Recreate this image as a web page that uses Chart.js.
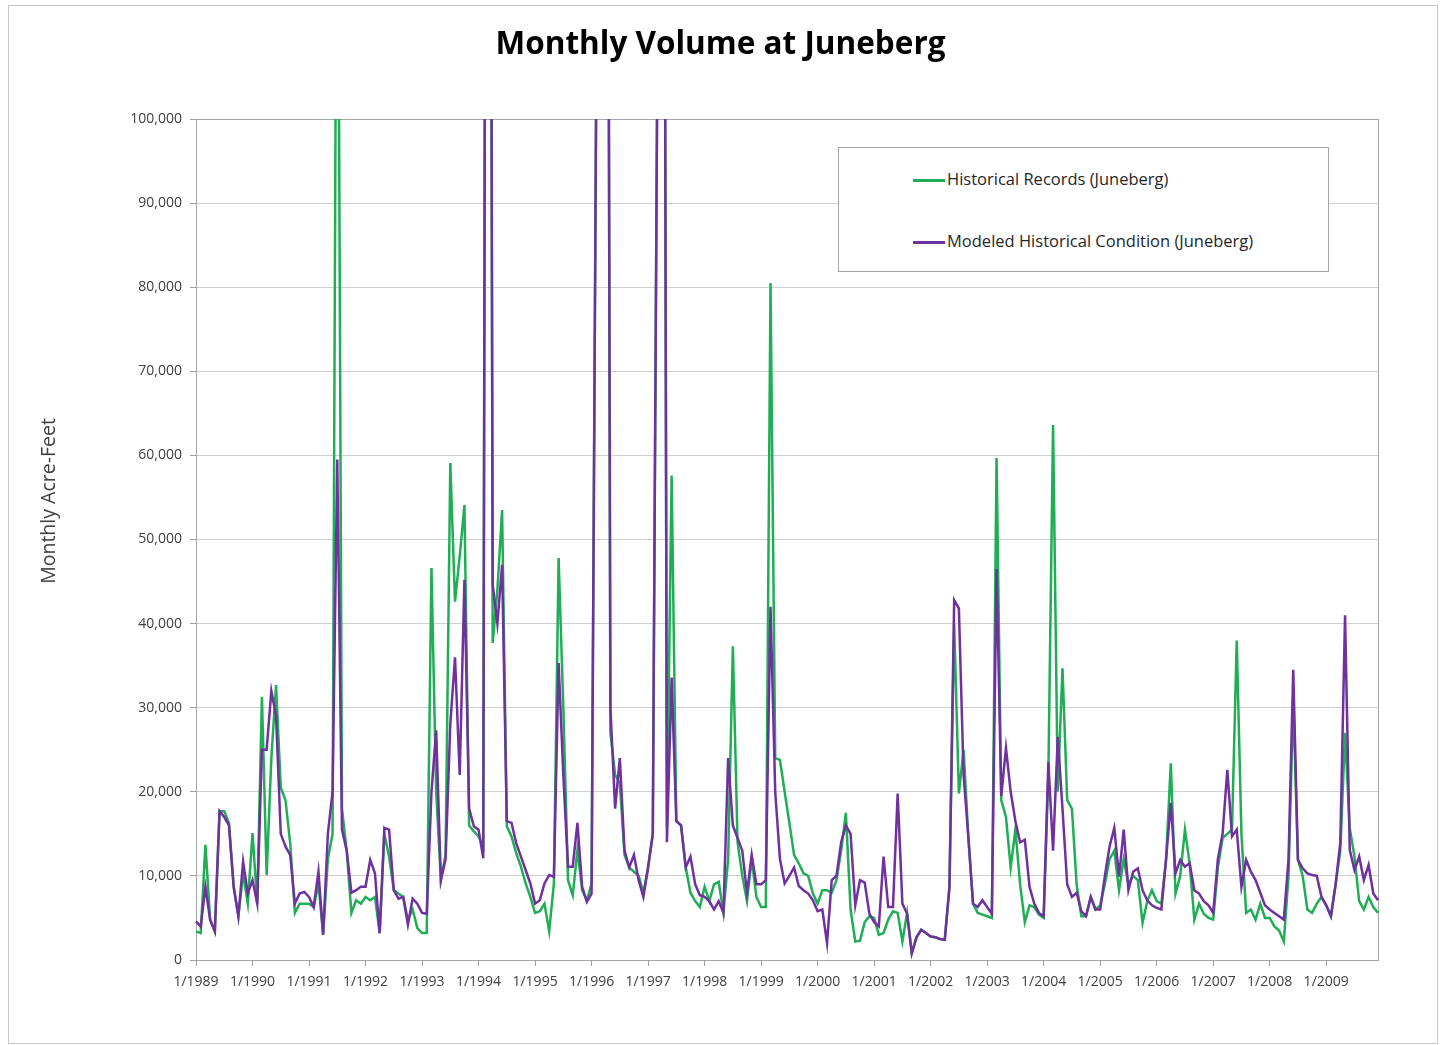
<!DOCTYPE html>
<html>
<head>
<meta charset="utf-8">
<title>Monthly Volume at Juneberg</title>
<script src="https://cdn.jsdelivr.net/npm/chart.js@4.4.1/dist/chart.umd.min.js"></script>
<style>
  html, body { margin: 0; padding: 0; background: #fff; }
  body { width: 1441px; height: 1045px; position: relative; overflow: hidden; font-family: 'Open Sans', sans-serif; }
  #frame { position: absolute; left: 8px; top: 5px; width: 1428px; height: 1037px; border: 1px solid #c8c8c8; }
  #wrap { position: absolute; left: 0; top: 0; width: 1441px; height: 1045px; }
  #title { position: absolute; left: 0; top: 21px; width: 1441px; line-height: 42px; text-align: center;
           font-size: 31.5px; font-weight: 700; color: #000; }
  #ytitle { position: absolute; left: 48px; top: 501px; width: 300px; margin-left: -150px; margin-top: -12px;
            line-height: 24px; text-align: center; font-size: 19.5px; color: #404040;
            transform: rotate(-90deg); white-space: nowrap; }
  #legend { position: absolute; left: 838px; top: 147px; width: 489px; height: 123px; background: #fff;
            border: 1px solid #a6a6a6; font-size: 16.5px; color: #262626; }
  #legend .row { position: absolute; left: 74px; height: 24px; line-height: 24px; white-space: nowrap; }
  #legend .swatch { display: inline-block; width: 32px; height: 3px; vertical-align: middle; margin-right: 2px; }
</style>
</head>
<body>
<div id="frame"></div>
<div id="wrap"><canvas id="chart" width="1441" height="1045"></canvas></div>
<div id="title">Monthly Volume at Juneberg</div>
<div id="ytitle">Monthly Acre-Feet</div>
<div id="legend">
  <div class="row" style="top:19px"><span class="swatch" style="background:#1fae55"></span>Historical Records (Juneberg)</div>
  <div class="row" style="top:81px"><span class="swatch" style="background:#7030a0"></span>Modeled Historical Condition (Juneberg)</div>
</div>
<script>
// monthly volumes, acre-feet, Jan 1989 - Dec 2009
const years = [1989, 1990, 1991, 1992, 1993, 1994, 1995, 1996, 1997, 1998, 1999,
               2000, 2001, 2002, 2003, 2004, 2005, 2006, 2007, 2008, 2009];

const historical = [
  3400, 3200, 13700, 4800, 3400, 17700, 17700, 16300, 8700, 5200, 10300, 6700,
  15100, 6700, 31300, 10100, 24000, 32700, 20500, 19000, 13900, 5600, 6700, 6700,
  6700, 6300, 9100, 3000, 12000, 15000, 150000, 18000, 13000, 5600, 7100, 6700,
  7500, 7100, 7500, 3200, 15000, 12300, 8300, 7900, 7500, 4800, 6000, 3800,
  3200, 3200, 46600, 20000, 9500, 12500, 59100, 42600, 48000, 54100, 16000, 15300,
  14700, 13500, 300000, 37700, 44000, 53500, 15900, 14700, 12700, 11100, 9100, 7500,
  5600, 5800, 6700, 3400, 9100, 47800, 30000, 9500, 7700, 13100, 8300, 7100,
  9100, 105000, 250000, 250000, 27000, 22000, 21000, 12500, 11000, 10500, 10000, 8000,
  11000, 15000, 110000, 250000, 16000, 57600, 16500, 16000, 11000, 8000, 7000, 6300,
  8700, 7000, 9000, 9300, 5600, 12000, 37300, 14000, 10000, 7000, 12000, 7500,
  6300, 6300, 80500, 24000, 23800, 20000, 16300, 12500, 11500, 10300, 10000, 7900,
  6700, 8300, 8300, 8000, 9500, 13000, 17500, 6000, 2200, 2300, 4500, 5200,
  5000, 3000, 3200, 4800, 5800, 5600, 2200, 5600, 800, 2700, 3600, 3200,
  2800, 2700, 2500, 2400, 8700, 40000, 19800, 25000, 14700, 6700, 5600, 5400,
  5200, 5000, 59700, 19000, 17000, 11000, 15500, 9000, 4500, 6500, 6300, 5400,
  5000, 22000, 63600, 20000, 34700, 19000, 18000, 9000, 5200, 5200, 7500, 6000,
  6500, 9000, 12000, 13000, 8300, 12000, 9000, 10000, 9500, 4400, 7000, 8300,
  7000, 6700, 12000, 23400, 7900, 10000, 15500, 11500, 4800, 6700, 5500, 5000,
  4800, 11000, 14500, 15000, 15500, 38000, 15000, 5600, 6000, 4800, 6700, 5000,
  5000, 4000, 3500, 2200, 10000, 31000, 11900, 10000, 6000, 5600, 6700, 7500,
  6500, 5200, 9000, 13000, 27000, 15700, 12300, 7000, 6000, 7500, 6300, 5600
];

const modeled = [
  4600, 4000, 8700, 4800, 3400, 17700, 17000, 16000, 8700, 5200, 11700, 7900,
  9500, 6700, 25000, 25000, 32000, 29000, 15000, 13500, 12500, 6700, 7900, 8100,
  7500, 6300, 10500, 3000, 15000, 20000, 59500, 15500, 13000, 8000, 8300, 8700,
  8700, 11900, 10300, 3200, 15700, 15500, 8300, 7300, 7500, 4200, 7300, 6700,
  5600, 5500, 20000, 27300, 9500, 12000, 28000, 36000, 22000, 45200, 18000, 15900,
  15500, 12100, 280000, 44600, 40000, 47000, 16500, 16300, 13900, 12300, 10700, 9100,
  6700, 7100, 9100, 10100, 9900, 35300, 22000, 11100, 11100, 16300, 8700, 6900,
  7900, 105000, 250000, 250000, 30000, 18000, 24000, 13000, 11000, 12500, 9500, 7500,
  11000, 15000, 110000, 250000, 14000, 33600, 16500, 16000, 11000, 12300, 9000, 7700,
  7500, 7000, 6000, 7000, 5600, 24000, 16000, 14500, 13000, 8000, 12500, 9000,
  9000, 9500, 42000, 20000, 12000, 9100, 10000, 11000, 8800, 8300, 7900, 7100,
  5800, 6000, 2000, 9500, 10000, 14000, 16000, 15000, 6500, 9500, 9200, 5500,
  4500, 4000, 12300, 6300, 6300, 19800, 6700, 5500, 800, 2700, 3600, 3200,
  2800, 2700, 2500, 2400, 8700, 42800, 41800, 22000, 14700, 6700, 6300, 7100,
  6300, 5500, 46500, 19500, 25200, 20000, 16500, 14000, 14300, 8700, 6700, 5600,
  5200, 23500, 13000, 26500, 18000, 9000, 7500, 8000, 5800, 5200, 7500, 6000,
  6000, 10000, 13500, 15700, 9900, 15500, 8300, 10500, 10900, 8300, 7100, 6500,
  6200, 6000, 12000, 18700, 10300, 11900, 11100, 11500, 8300, 7900, 7000, 6500,
  5600, 12000, 15000, 22600, 14700, 15500, 8700, 11900, 10500, 9500, 8000, 6500,
  6000, 5600, 5200, 4800, 12000, 34500, 11900, 10900, 10300, 10100, 10000, 7500,
  6500, 5200, 9000, 14000, 41000, 13100, 10700, 12300, 9500, 11300, 7900, 7100
];

const yMax = 100000;
const yStep = 10000;

const labels = [];
years.forEach(y => {
  for (let m = 1; m <= 12; m++) labels.push(m + '/' + y);
});

// gray frame round the plot area
const plotFrame = {
  id: 'plotFrame',
  beforeDatasetsDraw(chart) {
    const a = chart.chartArea, ctx = chart.ctx;
    ctx.save();
    ctx.strokeStyle = '#a6a6a6';
    ctx.lineWidth = 1;
    ctx.strokeRect(a.left + 0.5, a.top + 0.5, a.right - a.left, a.bottom - a.top);
    ctx.restore();
  }
};

const axisFont = { family: 'Open Sans', size: 14 };

new Chart(document.getElementById('chart'), {
  type: 'line',
  data: {
    labels: labels,
    datasets: [
      {
        label: 'Historical Records (Juneberg)',
        data: historical,
        borderColor: '#1fae55',
        borderWidth: 2.5,
        order: 2
      },
      {
        label: 'Modeled Historical Condition (Juneberg)',
        data: modeled,
        borderColor: '#7030a0',
        borderWidth: 2.5,
        order: 1
      }
    ]
  },
  options: {
    responsive: false,
    animation: false,
    layout: { padding: { left: 0, right: 63, top: 119, bottom: 45 } },
    elements: { point: { radius: 0 }, line: { tension: 0 } },
    plugins: {
      legend: { display: false },
      title: { display: false },
      tooltip: { enabled: false }
    },
    scales: {
      x: {
        grid: {
          drawOnChartArea: false,
          tickLength: 6,
          color: ctx => (ctx.index % 12 === 0 ? '#a0a0a0' : 'rgba(0,0,0,0)')
        },
        border: { color: '#a0a0a0' },
        ticks: {
          autoSkip: false,
          maxRotation: 0,
          minRotation: 0,
          padding: 8,
          color: '#404040',
          font: axisFont,
          callback: function (v, i) { return i % 12 === 0 ? this.getLabelForValue(v) : ''; }
        },
        afterFit: s => { s.height = 40; }
      },
      y: {
        min: 0,
        max: yMax,
        grid: { color: '#d0d0d0', tickLength: 6, tickColor: '#a0a0a0' },
        border: { color: '#a0a0a0' },
        ticks: {
          stepSize: yStep,
          padding: 8,
          color: '#404040',
          font: axisFont,
          callback: v => v.toLocaleString('en-US')
        },
        afterFit: s => { s.width = 196; }
      }
    }
  },
  plugins: [plotFrame]
});
</script>
</body>
</html>
